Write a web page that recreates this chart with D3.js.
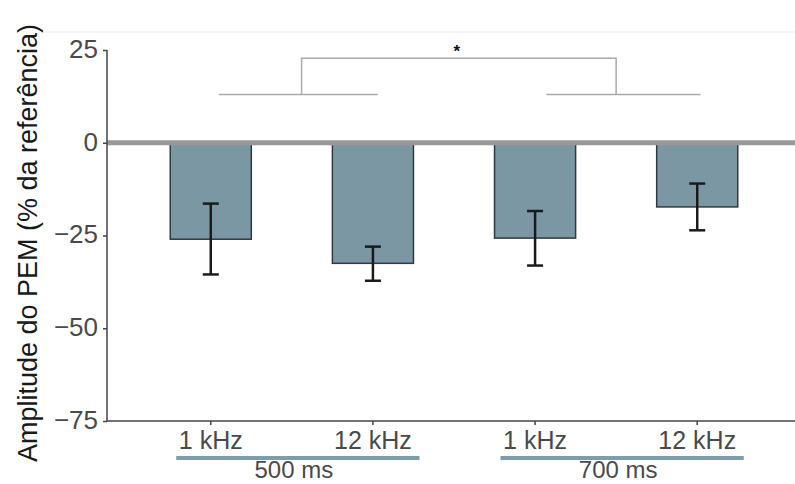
<!DOCTYPE html>
<html>
<head>
<meta charset="utf-8">
<script src="https://cdn.jsdelivr.net/npm/d3@7"></script>
<style>
  html, body { margin: 0; padding: 0; background: #fff; }
  svg { display: block; font-family: "Liberation Sans", Arial, Helvetica, sans-serif; }
</style>
</head>
<body>
<svg id="chart" width="795" height="484"></svg>
<script>
// ---- data ----
const categories = ["500-1k", "500-12k", "700-1k", "700-12k"];
const tickLabels = ["1 kHz", "12 kHz", "1 kHz", "12 kHz"];
const means = [-26, -32.5, -25.7, -17.3];
const errLow = [-35.5, -37.2, -33.1, -23.6];
const errHigh = [-16.4, -28, -18.4, -11];
const yTicks = [25, 0, -25, -50, -75];
const groups = ["500 ms", "700 ms"];
const groupMembers = [[0, 1], [2, 3]];
// significance bracket (category-index units, y in data units)
const bracketLowLeft = [0.05, 1.03];
const bracketLowRight = [2.07, 3.02];
const bracketTop = [0.56, 2.5];
const bracketLevels = [13, 22.8];
const sigLabel = "*";

// ---- layout ----
const svg = d3.select("#chart");
const x0 = 107, x1 = 801;
const yTop = 50, yBot = 421;

const x = d3.scaleBand().domain(categories).range([x0, x1])
  .paddingInner(0.5).paddingOuter(0.39);
const bw = x.bandwidth();
const cx = i => x(categories[i]) + bw / 2;
const xi = d3.scaleLinear().domain([0, 1]).range([cx(0), cx(1)]);
const y = d3.scaleLinear().domain([-75, 25]).range([yBot, yTop]);

// faint top border
svg.append("line").attr("x1", 45).attr("x2", 795).attr("y1", 32).attr("y2", 32)
  .attr("stroke", "#ececec").attr("stroke-width", 1);

// bars
svg.append("g").selectAll("rect").data(means).join("rect")
  .attr("x", (d, i) => x(categories[i]))
  .attr("width", bw)
  .attr("y", y(0))
  .attr("height", d => y(d) - y(0))
  .attr("fill", "#7b97a3")
  .attr("stroke", "#2f3a3e")
  .attr("stroke-width", 1.5);

// zero line
svg.append("line").attr("x1", x0).attr("x2", 795).attr("y1", y(0)).attr("y2", y(0))
  .attr("stroke", "#999").attr("stroke-width", 5);

// error bars
const eb = svg.append("g").attr("stroke", "#1a1a1a").attr("stroke-width", 2.5).attr("fill", "none");
means.forEach((m, i) => {
  const c = cx(i);
  eb.append("line").attr("x1", c).attr("x2", c).attr("y1", y(errLow[i])).attr("y2", y(errHigh[i]));
  eb.append("line").attr("x1", c - 8).attr("x2", c + 8).attr("y1", y(errLow[i])).attr("y2", y(errLow[i]));
  eb.append("line").attr("x1", c - 8).attr("x2", c + 8).attr("y1", y(errHigh[i])).attr("y2", y(errHigh[i]));
});

// y axis
const yAxis = d3.axisLeft(y).tickValues(yTicks).tickSize(4).tickPadding(5)
  .tickFormat(d => d < 0 ? "\u2212" + Math.abs(d) : String(d));
const gy = svg.append("g").attr("transform", `translate(${x0},0)`).call(yAxis);
gy.select(".domain").remove();
gy.append("line").attr("x1", 0).attr("x2", 0).attr("y1", yTop).attr("y2", yBot)
  .attr("stroke", "#444").attr("stroke-width", 1.5);
gy.selectAll(".tick line").attr("stroke", "#444").attr("stroke-width", 1.5);
gy.selectAll(".tick text").attr("fill", "#4a4a4a").style("font-size", "26px")
  .attr("dy", "0.28em")
  .attr("font-family", "Liberation Sans, Arial, sans-serif");

// x axis
const xAxis = d3.axisBottom(x).tickSize(4).tickPadding(6).tickFormat((d, i) => tickLabels[i]);
const gx = svg.append("g").attr("transform", `translate(0,${yBot})`).call(xAxis);
gx.select(".domain").remove();
gx.append("line").attr("x1", x0).attr("x2", 795).attr("y1", 0).attr("y2", 0)
  .attr("stroke", "#444").attr("stroke-width", 1.5);
gx.selectAll(".tick line").attr("stroke", "#444").attr("stroke-width", 1.5);
gx.selectAll(".tick text").attr("fill", "#4a4a4a").style("font-size", "25px")
  .attr("font-family", "Liberation Sans, Arial, sans-serif");

// group underlines + labels
groups.forEach((g, k) => {
  const [a, b] = groupMembers[k];
  const left = x(categories[a]) + 6;
  const right = x(categories[b]) + bw + 6;
  svg.append("line").attr("x1", left).attr("x2", right).attr("y1", 458).attr("y2", 458)
    .attr("stroke", "#7d9dac").attr("stroke-width", 4);
  svg.append("text").attr("x", (left + right) / 2 - 4).attr("y", 478)
    .attr("text-anchor", "middle").attr("fill", "#4a4a4a").style("font-size", "24px")
    .text(g);
});

// significance bracket
const br = svg.append("g").attr("stroke", "#aaa").attr("stroke-width", 1.5).attr("fill", "none");
const lo = y(bracketLevels[0]), hi = y(bracketLevels[1]);
br.append("line").attr("x1", xi(bracketLowLeft[0])).attr("x2", xi(bracketLowLeft[1])).attr("y1", lo).attr("y2", lo);
br.append("line").attr("x1", xi(bracketLowRight[0])).attr("x2", xi(bracketLowRight[1])).attr("y1", lo).attr("y2", lo);
br.append("path").attr("d",
  `M${xi(bracketTop[0])},${lo}V${hi}H${xi(bracketTop[1])}V${lo}`);
svg.append("text").attr("x", (xi(bracketTop[0]) + xi(bracketTop[1])) / 2 - 2).attr("y", hi - 1)
  .attr("text-anchor", "middle").attr("fill", "#111").style("font-size", "17px")
  .style("font-weight", "bold").text(sigLabel);

// y title
svg.append("text")
  .attr("transform", `translate(37,${243}) rotate(-90)`)
  .attr("text-anchor", "middle").attr("fill", "#1a1a1a").style("font-size", "27px")
  .text("Amplitude do PEM (% da referência)");
</script>
</body>
</html>
